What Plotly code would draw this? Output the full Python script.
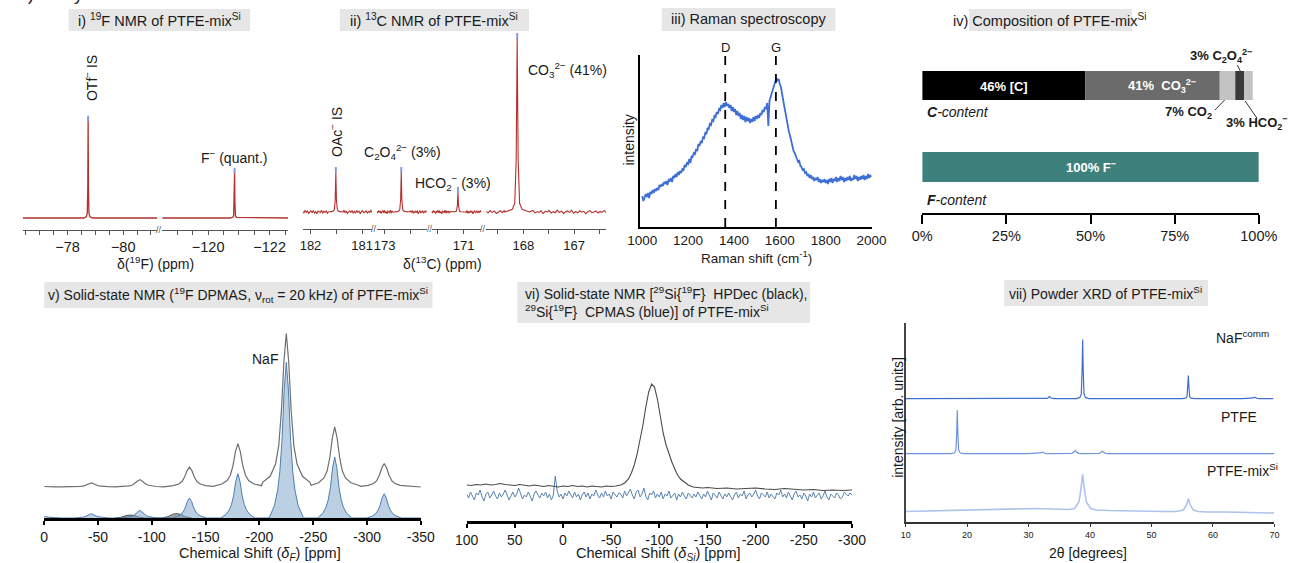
import numpy as np
import plotly.graph_objects as go

W, H = 1310, 563
FONT = "Liberation Sans, Arial, Helvetica, sans-serif"

# ------------------------------------------------------------------ data
# i) 19F solution NMR
f19_peak_ppm = [-78.74, -120.86]
f19_peak_int = [100, 47]
f19_left_ticks = [-78.0, -80.0]
f19_left_labels = ["−78", "−80"]
f19_left_minor = [-76.5, -77.0, -77.5, -78.5, -79.0, -79.5, -80.5, -81.0]
f19_right_ticks = [-120.0, -122.0]
f19_right_labels = ["−120", "−122"]
f19_right_minor = [-118.5, -119.0, -119.5, -120.5, -121.0, -121.5, -122.5]

# ii) 13C solution NMR
c13_peak_ppm = [181.51, 172.68, 171.11, 168.12]
c13_peak_int = [23, 23, 11.5, 100]
c13_peak_wscale = [1.0, 1.0, 1.0, 1.6]
c13_seg_ranges = [[182.15, 180.81], [173.15, 172.19], [171.62, 170.66], [168.73, 166.37]]
c13_seg_ticks = [[182, 181], [173], [171], [168, 167]]
c13_seg_labels = [["182", "181"], ["173"], ["171"], ["168", "167"]]
c13_seg_minor = [[181.5], [172.5], [171.5], [168.5, 167.5, 166.5]]
c13_noise = [0.3, -0.5, 0.8, -0.2, 0.6, -0.9, 0.1, 0.7, -0.4, 0.9, -0.6, 0.2, -1.0, 0.5, 0.0,
             -0.3, 1.0, -0.7, 0.4, -0.1, 0.6, -0.8, 0.3, 0.9, -0.5, 0.1, -0.2, 0.7, -0.9, 0.4,
             0.0, 0.8, -0.6, 0.2, -0.4, 1.1, -0.3, 0.5, -0.8, 0.1, 0.6, -0.2, 0.9, -0.7, 0.3,
             -0.5, 0.7, -0.1, 0.4, -1.0, 0.2, 0.8, -0.4, 0.0, 0.6, -0.6, 0.3, -0.2, 0.9, -0.3]

# iii) Raman (shift every 5 cm-1 from 1000 to 2000)
raman_int = [31, 26, 29, 33, 30, 34, 29, 35, 33, 37, 34, 38, 36, 39, 37, 42, 40, 43, 41, 45,
             43, 46, 42, 47, 46, 49, 45, 51, 49, 53, 50, 55, 52, 56, 54, 58, 57, 62, 60, 64,
             63, 68, 64, 71, 70, 74, 73, 78, 76, 83, 81, 86, 84, 90, 89, 94, 93, 99, 98, 103,
             102, 107, 106, 111, 110, 115, 113, 118, 117, 122, 119, 124, 120, 125, 121, 123, 119, 122, 116, 120,
             115, 118, 112, 116, 111, 114, 108, 112, 107, 111, 105, 110, 106, 109, 104, 108, 105, 110, 106, 111,
             108, 112, 109, 114, 112, 117, 115, 120, 118, 124, 101, 126, 130, 134, 137, 142, 145, 149, 146, 148,
             143, 140, 133, 128, 120, 114, 107, 101, 95, 91, 85, 81, 76, 74, 70, 68, 65, 66, 61, 60,
             57, 58, 54, 55, 51, 53, 49, 52, 48, 50, 46, 49, 47, 50, 45, 48, 44, 47, 45, 48,
             44, 47, 43, 48, 45, 49, 44, 48, 46, 50, 45, 49, 46, 51, 47, 50, 45, 49, 46, 50,
             47, 51, 46, 49, 47, 52, 48, 51, 46, 50, 47, 51, 48, 52, 47, 51, 48, 53, 49, 52,
             50]
raman_shift = list(range(1000, 1000 + 5 * len(raman_int), 5))
raman_bands = [1362, 1583]
raman_band_labels = ["D", "G"]
raman_ticks = [1000, 1200, 1400, 1600, 1800, 2000]

# iv) Composition
comp_values = [48.4, 40.0, 4.6, 2.6, 2.6]          # bar lengths (% of axis)
comp_colors = ["#000000", "#6b6b6b", "#c3c3c3", "#3a3a3a", "#c3c3c3"]
f_values = [100]
comp_ticks = [0, 25, 50, 75, 100]
comp_ticklabels = ["0%", "25%", "50%", "75%", "100%"]

# v) 19F DPMAS
ss_ppm = [0, -44, -89, -135, -180, -225, -270, -316]
ss_blue = [1.6, 4.3, 7.6, 20, 44.3, 155.6, 61, 24.3]
ss_grey = [0.5, 4.0, 7.4, 20, 43.4, 153.4, 60, 23.4]
ss_hump_ppm = [-80, -123]
ss_hump_int = [3.0, 4.5]
ss_ticks = [0, -50, -100, -150, -200, -250, -300, -350]

# vi) 29Si NMR
si_black_ppm = [100, 95, 90, 85, 80, 75, 70, 65, 60, 55, 50, 45, 40, 35, 30, 25, 20, 15, 10, 5,
                0, -5, -10, -15, -20, -25, -30, -35, -40, -45, -50, -55, -60, -64, -68, -71, -74,
                -77, -80, -83, -86, -89, -92, -95, -98, -101, -104, -107, -110, -113, -116, -119,
                -122, -126, -130, -135, -140, -145, -150, -160, -170, -180, -190, -200, -210,
                -220, -230, -240, -250, -260, -270, -280, -290, -300]
si_black_int = [36, 35.5, 36.5, 36, 37, 36, 36.5, 37.5, 36.5, 36, 35.5, 36.5, 36, 35, 36, 35.5,
                34.5, 35.5, 35, 34, 35, 34.5, 35.5, 34.5, 35, 34, 35, 34.5, 34, 35, 34.5, 35, 36,
                38, 42, 48, 56, 67, 80, 96, 114, 129, 137, 134, 122, 104, 88, 76, 67, 59, 52, 46,
                42, 38.5, 36, 34, 33.5, 33, 33.5, 32.5, 33, 32, 32.5, 33, 32, 31.5, 32.5, 32, 31,
                31.5, 30.5, 31, 30.5, 31]
si_blue_int = [27, 23, 29, 25, 21, 28, 26, 31, 24, 20, 27, 29, 23, 26, 30, 25, 22, 28, 24, 27,
               31, 26, 21, 25, 29, 24, 27, 33, 28, 22, 26, 24, 29, 25, 20, 27, 30, 26, 23, 28,
               25, 29, 23, 27, 21, 26, 45, 30, 24, 27, 22, 28, 25, 30, 26, 23, 29, 24, 27, 21,
               26, 29, 24, 28, 22, 27, 25, 31, 26, 23, 28, 24, 30, 25, 27, 22, 29, 26, 24, 28,
               27, 23, 30, 25, 28, 32, 26, 22, 29, 31, 24, 27, 33, 25, 21, 28, 26, 30, 23, 27,
               24, 29, 22, 27, 25, 30, 23, 26, 28, 21, 27, 24, 29, 25, 22, 28, 26, 23, 27, 24,
               29, 25, 22, 27, 24, 30, 26, 21, 28, 25, 23, 29, 26, 22, 27, 24, 28, 25, 21, 26,
               29, 23, 27, 25, 30, 22, 26, 28, 24, 27, 31, 25, 22, 28, 26, 24, 29, 23, 27, 25,
               22, 28, 26, 31, 24, 27, 23, 29, 25, 21, 27, 30, 24, 26, 22, 28, 25, 20, 27, 24,
               29, 23, 26, 28, 22, 25, 30, 24, 21, 27, 25, 23, 28, 26, 22, 24, 29, 27, 25, 28, 26]
si_ticks = [100, 50, 0, -50, -100, -150, -200, -250, -300]

# vii) Powder XRD
naf_base = 123.4
naf_2theta = [33.4, 38.8, 56.0, 66.8]
naf_int = [2.0, 59.0, 23.0, 1.5]
ptfe_base = 68.4
ptfe_2theta = [18.4, 32.2, 37.6, 42.0]
ptfe_int = [43.3, 1.5, 3.0, 2.6]
mix_2theta = [10, 13, 16, 19, 22, 25, 28, 31, 34, 35.5, 36.5, 37.5, 38.2, 38.5, 38.8, 39.1, 39.4,
              40.1, 41, 43, 46, 49, 52, 54, 55.2, 55.7, 56.0, 56.3, 56.8, 57.6, 59, 62, 65, 68, 70]
mix_int = [10.5, 11, 11.5, 12, 12.5, 13, 13.5, 13.5, 13, 12.5, 12.5, 13.5, 20, 32, 47.7, 32, 20,
           13.5, 12, 11.5, 11, 11, 10.5, 10.5, 12, 17, 23.4, 17, 12, 10.5, 10, 10, 9.5, 9.5, 9]
xrd_ticks = [10, 20, 30, 40, 50, 60, 70]

# ------------------------------------------------------------------ line shapes (style)
NMR_OFF = [-0.15, -0.06, -0.03, -0.012, 0, 0.012, 0.03, 0.06, 0.15]
NMR_REL = [0, 0.015, 0.05, 0.3, 1, 0.3, 0.05, 0.015, 0]
BLUE_OFF = [-16, -11, -8, -6, -4, -2, 0, 2, 4, 6, 8, 11, 16]
BLUE_REL = [0, 0.08, 0.18, 0.3, 0.5, 0.82, 1, 0.82, 0.5, 0.3, 0.18, 0.08, 0]
GREY_OFF = [-22, -15, -10, -7, -4.5, -2.2, 0, 2.2, 4.5, 7, 10, 15, 22]
GREY_REL = [0.03, 0.07, 0.15, 0.27, 0.5, 0.82, 1, 0.82, 0.5, 0.27, 0.15, 0.07, 0.03]
HUMP_OFF = [-14, -8, -4, 0, 4, 8, 14]
HUMP_REL = [0, 0.3, 0.8, 1, 0.8, 0.3, 0]
XRD_OFF = [-1.0, -0.45, -0.22, -0.1, 0, 0.1, 0.22, 0.45, 1.0]
XRD_REL = [0, 0.02, 0.08, 0.45, 1, 0.45, 0.08, 0.02, 0]


def build(x0, x1, base, centers, heights, off, rel, scales=None, noise=None):
    lo, hi = min(x0, x1), max(x0, x1)
    wins = []
    pts = []
    for i, (c, h) in enumerate(zip(centers, heights)):
        s = scales[i] if scales else 1.0
        wins.append((c + min(off) * s, c + max(off) * s))
        for o, r in zip(off, rel):
            xx = c + o * s
            if lo <= xx <= hi:
                pts.append((xx, base + h * r))
    if noise is not None:
        xs = np.linspace(x0, x1, len(noise))
        for xx, v in zip(xs, noise):
            if not any(a <= xx <= b for a, b in wins):
                pts.append((float(xx), base + v))
    else:
        for xx in (x0, x1):
            if not any(a <= xx <= b for a, b in wins):
                pts.append((xx, base))
    pts.sort()
    return [p[0] for p in pts], [p[1] for p in pts]


def xd(a, b):
    return [a / W, b / W]


def yd(top, bottom):
    return [1 - bottom / H, 1 - top / H]


fig = go.Figure()
layout = dict(width=W, height=H, margin=dict(l=0, r=0, t=0, b=0),
              paper_bgcolor="white", plot_bgcolor="white", showlegend=False,
              barmode="overlay", font=dict(family=FONT, color="#1a1a1a", size=13))
annotations = []
shapes = []


def ann(x, y, text, size=14, color="#1a1a1a", xa="center", ya="middle", angle=0, **kw):
    annotations.append(dict(x=x / W, y=1 - y / H, xref="paper", yref="paper", text=text,
                            showarrow=False, xanchor=xa, yanchor=ya, textangle=angle,
                            font=dict(family=FONT, size=size, color=color), **kw))


def box(x0, x1, y0, y1):
    shapes.append(dict(type="rect", xref="paper", yref="paper", x0=x0 / W, x1=x1 / W,
                       y0=1 - y1 / H, y1=1 - y0 / H, fillcolor="#e6e6e6",
                       line=dict(width=0), layer="below"))


def pline(x0, y0, x1, y1, color="#333", width=1):
    shapes.append(dict(type="line", xref="paper", yref="paper", x0=x0 / W, x1=x1 / W,
                       y0=1 - y0 / H, y1=1 - y1 / H, line=dict(color=color, width=width)))


def axis_nmr(tv, tt, minor, rng, dom, size=14.5):
    return dict(domain=dom, range=rng, showline=True, linecolor="#555", linewidth=1,
                ticks="outside", ticklen=4, tickcolor="#555", tickvals=tv, ticktext=tt,
                minor=dict(tickvals=minor, ticks="outside", ticklen=4, tickcolor="#555"),
                tickfont=dict(size=size, family=FONT, color="#1a1a1a"), showgrid=False,
                zeroline=False)


def yhidden(dom, rng):
    return dict(domain=dom, range=rng, visible=False, showgrid=False, zeroline=False)


RED = "#b3302d"
PEAKMARK = dict(symbol="line-ns", size=4, line=dict(color="#8a97e6", width=2))

# ---------------- panel i
f19_left_range = [-76.39, -81.23]
f19_right_range = [-118.51, -122.6]
yr_i = [-12.24, 161.2]
layout["xaxis"] = axis_nmr(f19_left_ticks, f19_left_labels, f19_left_minor, f19_left_range, xd(10, 148))
layout["xaxis"]["anchor"] = "y"
layout["yaxis"] = yhidden(yd(60, 230), yr_i)
layout["yaxis"]["anchor"] = "x"
layout["xaxis2"] = axis_nmr(f19_right_ticks, f19_right_labels, f19_right_minor, f19_right_range, xd(153, 282))
layout["xaxis2"]["anchor"] = "y2"
layout["yaxis2"] = yhidden(yd(60, 230), yr_i)
layout["yaxis2"]["anchor"] = "x2"
for ax, rng, k in (("", f19_left_range, 0), ("2", f19_right_range, 1)):
    xs, ys = build(rng[0], rng[1], 0, [f19_peak_ppm[k]], [f19_peak_int[k]], NMR_OFF, NMR_REL)
    fig.add_trace(go.Scatter(x=xs, y=ys, mode="lines", line=dict(color=RED, width=1.3),
                             xaxis="x" + ax, yaxis="y" + ax, hoverinfo="skip"))
    fig.add_trace(go.Scatter(x=[f19_peak_ppm[k]], y=[f19_peak_int[k] + 1.5], mode="markers",
                             marker=PEAKMARK, xaxis="x" + ax, yaxis="y" + ax))

# ---------------- panel ii
c13_doms = [(297, 368), (373, 424), (429, 480), (485, 608)]
yr_ii = [-9.77, 104.6]
for s in range(4):
    n = s + 3
    rng = c13_seg_ranges[s]
    layout[f"xaxis{n}"] = axis_nmr(c13_seg_ticks[s], c13_seg_labels[s], c13_seg_minor[s], rng,
                                   xd(*c13_doms[s]), size=13)
    layout[f"xaxis{n}"]["anchor"] = f"y{n}"
    layout[f"yaxis{n}"] = yhidden(yd(30, 229), yr_ii)
    layout[f"yaxis{n}"]["anchor"] = f"x{n}"
    lo, hi = min(rng), max(rng)
    idx = [i for i, p in enumerate(c13_peak_ppm) if lo <= p <= hi]
    xs, ys = build(rng[0], rng[1], 0, [c13_peak_ppm[i] for i in idx],
                   [c13_peak_int[i] for i in idx], NMR_OFF, NMR_REL,
                   scales=[c13_peak_wscale[i] for i in idx], noise=c13_noise)
    fig.add_trace(go.Scatter(x=xs, y=ys, mode="lines", line=dict(color=RED, width=1.1),
                             xaxis=f"x{n}", yaxis=f"y{n}", hoverinfo="skip"))
    fig.add_trace(go.Scatter(x=[c13_peak_ppm[i] for i in idx],
                             y=[c13_peak_int[i] + 1.2 for i in idx], mode="markers",
                             marker=PEAKMARK, xaxis=f"x{n}", yaxis=f"y{n}"))

# ---------------- panel iii (Raman)
layout["xaxis7"] = dict(domain=xd(643, 880), range=[991.5, 2000], anchor="y7", showline=True,
                        linecolor="black", linewidth=2, ticks="", tickvals=raman_ticks,
                        tickfont=dict(size=13.5, family=FONT, color="#1a1a1a"),
                        showgrid=False, zeroline=False)
layout["yaxis7"] = dict(domain=yd(55, 227), range=[0, 172], anchor="x7", showline=True,
                        linecolor="black", linewidth=2, ticks="", showticklabels=False,
                        showgrid=False, zeroline=False)
fig.add_trace(go.Scatter(x=raman_shift, y=raman_int, mode="lines",
                         line=dict(color="#3f6fd2", width=1.8), xaxis="x7", yaxis="y7"))
for pos, lab in zip(raman_bands, raman_band_labels):
    shapes.append(dict(type="line", xref="x7", yref="paper", x0=pos, x1=pos,
                       y0=1 - 227 / H, y1=1 - 49 / H,
                       line=dict(color="black", width=1.8, dash="dash")))
    annotations.append(dict(x=pos, y=1 - 38 / H, xref="x7", yref="paper", text=lab,
                            showarrow=False, font=dict(family=FONT, size=13, color="#1a1a1a")))

# ---------------- panel iv (composition)
layout["xaxis8"] = dict(domain=xd(932, 1277), range=[0, 100], anchor="y8", showline=True,
                        linecolor="black", linewidth=1.5, ticks="outside", ticklen=9,
                        tickwidth=1.5, tickcolor="black", tickvals=comp_ticks,
                        ticktext=comp_ticklabels,
                        tickfont=dict(size=14.5, family=FONT, color="#1a1a1a"),
                        showgrid=False, zeroline=False)
layout["yaxis8"] = yhidden(yd(55, 213), [0, 158])
layout["yaxis8"]["anchor"] = "x8"
cum = np.concatenate([[0], np.cumsum(comp_values)[:-1]])
for v, b, c in zip(comp_values, cum, comp_colors):
    fig.add_trace(go.Bar(orientation="h", x=[v], base=[b], y=[127.5], width=29,
                         marker=dict(color=c, line=dict(width=0)), xaxis="x8", yaxis="y8"))
fig.add_trace(go.Bar(orientation="h", x=f_values, base=[0], y=[46], width=30,
                     marker=dict(color="#3e807c", line=dict(width=0)), xaxis="x8", yaxis="y8"))


def cx(pct):
    return 932 + pct / 100 * 345


ann(cx(cum[0] + comp_values[0] / 2), 86, "<b>46% [C]</b>", 13, "white")
ann(cx(cum[1] + comp_values[1] / 2) + 10, 86, "<b>41%  CO<sub>3</sub><sup>2−</sup></b>", 13, "white")
ann(cx(f_values[0] / 2), 167, "<b>100% F<sup>−</sup></b>", 13, "white")
ann(1204, 56, "<b>3% C<sub>2</sub>O<sub>4</sub><sup>2−</sup></b>", 13, xa="left")
ann(1231, 113, "<b>7% CO<sub>2</sub></b>", 13, xa="right")
ann(1309, 123, "<b>3% HCO<sub>2</sub><sup>−</sup></b>", 13, xa="right")
ann(935, 112, "<b><i>C</i></b><i>-content</i>", 14, xa="left")
ann(935, 200, "<b><i>F</i></b><i>-content</i>", 14, xa="left")
pline(1255, 65, 1258, 71)
pline(1232, 110, 1242, 100)
pline(1263, 101, 1275, 118)

# ---------------- panel v (19F DPMAS)
layout["xaxis9"] = dict(domain=xd(32, 418), range=[0, -350], anchor="y9", showline=True,
                        linecolor="black", linewidth=2.5, ticks="outside", ticklen=4,
                        tickwidth=1.5, tickcolor="black", tickvals=ss_ticks,
                        ticktext=[str(t) for t in ss_ticks],
                        tickfont=dict(size=14, family=FONT, color="#1a1a1a"),
                        showgrid=False, zeroline=False)
layout["yaxis9"] = yhidden(yd(320, 518), [0, 198])
layout["yaxis9"]["anchor"] = "x9"
GREY_OFFSET = 31
xs, ys = build(0, -350, GREY_OFFSET, ss_ppm, ss_grey, GREY_OFF, GREY_REL)
fig.add_trace(go.Scatter(x=xs, y=ys, mode="lines", line=dict(color="#6e6e6e", width=1.2),
                         xaxis="x9", yaxis="y9"))
xs, ys = build(-66, -137, 0, ss_hump_ppm, ss_hump_int, HUMP_OFF, HUMP_REL)
fig.add_trace(go.Scatter(x=xs, y=ys, mode="lines", fill="tozeroy",
                         fillcolor="rgba(90,90,90,0.55)", line=dict(color="#333", width=0.8),
                         xaxis="x9", yaxis="y9"))
xs, ys = build(0, -350, 0, ss_ppm, ss_blue, BLUE_OFF, BLUE_REL)
fig.add_trace(go.Scatter(x=xs, y=ys, mode="lines", fill="tozeroy",
                         fillcolor="rgba(122,162,200,0.5)", line=dict(color="#4d7eb0", width=1),
                         xaxis="x9", yaxis="y9"))

# ---------------- panel vi (29Si)
layout["xaxis10"] = dict(domain=xd(465, 860), range=[100, -300], anchor="y10", showline=True,
                         linecolor="black", linewidth=2.5, ticks="outside", ticklen=4,
                         tickwidth=1.5, tickcolor="black", tickvals=si_ticks,
                         ticktext=[str(t) for t in si_ticks],
                         tickfont=dict(size=14, family=FONT, color="#1a1a1a"),
                         showgrid=False, zeroline=False)
layout["yaxis10"] = yhidden(yd(330, 521), [0, 191])
layout["yaxis10"]["anchor"] = "x10"
si_blue_ppm = np.linspace(100, -300, len(si_blue_int))
fig.add_trace(go.Scatter(x=si_blue_ppm, y=si_blue_int, mode="lines",
                         line=dict(color="#5b82b0", width=1), xaxis="x10", yaxis="y10"))
fig.add_trace(go.Scatter(x=si_black_ppm, y=si_black_int, mode="lines",
                         line=dict(color="#4a4a4a", width=1.1), xaxis="x10", yaxis="y10"))

# ---------------- panel vii (XRD)
layout["xaxis11"] = dict(domain=xd(915, 1293), range=[10, 70], anchor="y11", showline=True,
                         linecolor="#333", linewidth=1.5, ticks="outside", ticklen=3,
                         tickcolor="#333", tickvals=xrd_ticks,
                         tickfont=dict(size=9, family=FONT, color="#1a1a1a"),
                         showgrid=False, zeroline=False)
layout["yaxis11"] = dict(domain=yd(323, 522), range=[0, 199], anchor="x11", showline=True,
                         linecolor="#444", linewidth=1.5, ticks="", showticklabels=False,
                         showgrid=False, zeroline=False)
xs, ys = build(10, 69.8, naf_base, naf_2theta, naf_int, XRD_OFF, XRD_REL, scales=[2, 1, 1, 2])
fig.add_trace(go.Scatter(x=xs, y=ys, mode="lines", line=dict(color="#3f6fcf", width=1.2),
                         xaxis="x11", yaxis="y11"))
xs, ys = build(10, 70, ptfe_base, ptfe_2theta, ptfe_int, XRD_OFF, XRD_REL, scales=[1, 2.5, 2.5, 2.5])
fig.add_trace(go.Scatter(x=xs, y=ys, mode="lines", line=dict(color="#6f94dc", width=1.2),
                         xaxis="x11", yaxis="y11"))
fig.add_trace(go.Scatter(x=mix_2theta, y=mix_int, mode="lines",
                         line=dict(color="#adc2ec", width=1.6), xaxis="x11", yaxis="y11"))

# ---------------- titles & labels
ann(3, 6, "2) Analysis of PTFE-mix<sup>Si</sup>", 18, xa="left", ya="bottom")

box(57, 243, 9, 31)
ann(150, 20, "i) <sup>19</sup>F NMR of PTFE-mix<sup>Si</sup>", 14.5)
ann(80, 78, "OTf<sup>−</sup> IS", 14, angle=-90)
ann(227, 157, "F<sup>−</sup> (quant.)", 14)
ann(146, 263, "δ(<sup>19</sup>F) (ppm)", 14)
ann(150, 230, "//", 9, "#555")

box(335, 529, 9, 31)
ann(432, 20, "ii) <sup>13</sup>C NMR of PTFE-mix<sup>Si</sup>", 14.5)
ann(331, 132, "OAc<sup>−</sup> IS", 14, angle=-90)
ann(399, 152, "C<sub>2</sub>O<sub>4</sub><sup>2−</sup> (3%)", 14)
ann(451, 183, "HCO<sub>2</sub><sup>−</sup> (3%)", 14)
ann(568, 70, "CO<sub>3</sub><sup>2−</sup> (41%)", 14)
ann(440, 263, "δ(<sup>13</sup>C) (ppm)", 14)
for bx in (370, 427, 482):
    ann(bx, 229, "//", 9, "#555")

box(665, 843, 8, 31)
ann(754, 19, "iii) Raman spectroscopy", 14.5)
ann(631, 140, "intensity", 14, angle=-90)
ann(762, 257, "Raman shift (cm<sup>-1</sup>)", 13.5)

box(980, 1147, 9, 31)
ann(1063, 20, "iv) Composition of PTFE-mix<sup>Si</sup>", 14.5)

box(32, 430, 282, 308)
ann(231, 295, "v) Solid-state NMR (<sup>19</sup>F DPMAS, ν<sub>rot</sub> = 20 kHz) of PTFE-mix<sup>Si</sup>", 14)
ann(258, 359, "NaF", 14)
ann(253, 554, "Chemical Shift (<i>δ<sub>F</sub></i>) [ppm]", 14.5)

box(517, 817, 282, 323)
ann(523, 302, "vi) Solid-state NMR [<sup>29</sup>Si{<sup>19</sup>F}  HPDec (black),<br>"
              "<sup>29</sup>Si{<sup>19</sup>F}  CPMAS (blue)] of PTFE-mix<sup>Si</sup>",
    14, xa="left", align="left")
ann(662, 554, "Chemical Shift (<i>δ<sub>Si</sub></i>) [ppm]", 14.5)

box(1016, 1225, 280, 306)
ann(1120, 293, "vii) Powder XRD of PTFE-mix<sup>Si</sup>", 14)
ann(1260, 337, "NaF<sup>comm</sup>", 14)
ann(1257, 417, "PTFE", 14)
ann(1260, 470, "PTFE-mix<sup>Si</sup>", 14)
ann(1102, 553, "2θ [degrees]", 14)
ann(907, 417, "intensity [arb. units]", 14, angle=-90)

layout["annotations"] = annotations
layout["shapes"] = shapes
fig.update_layout(**layout)
fig.write_html("out.html", config={"displayModeBar": False},
               post_script="document.body.style.margin='0';document.body.style.padding='0';"
                           "document.body.style.overflow='hidden';")
